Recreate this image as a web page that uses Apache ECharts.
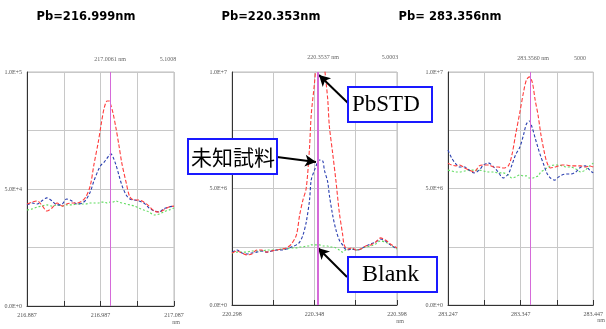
<!DOCTYPE html>
<html>
<head>
<meta charset="utf-8">
<script src="https://cdn.jsdelivr.net/npm/echarts@6/dist/echarts.min.js"></script>
<style>
html,body{margin:0;padding:0;background:#fff;}
#chart{width:606px;height:329px;}
</style>
</head>
<body>
<div id="chart"></div>
<script>
//标题与中心波长
var titles = ['Pb=216.999nm', 'Pb=220.353nm', 'Pb= 283.356nm'];
var peakNm = [216.999, 220.353, 283.356];
var xRange = [[216.887, 217.087], [220.298, 220.398], [283.247, 283.447]];
var yLabels = [['0.0E+0', '5.0E+4', '1.0E+5'], ['0.0E+0', '5.0E+6', '1.0E+7'], ['0.0E+0', '5.0E+6', '1.0E+7']];

//Pb 216.999nm
var x1 = [216.887,216.894,216.901,216.907,216.914,216.921,216.928,216.935,216.941,216.948,216.955,216.962,216.967,216.973,216.978,216.984,216.988,216.992,216.996,216.999,217.001,217.004,217.008,217.012,217.016,217.022,217.027,217.033,217.039,217.046,217.053,217.060,217.067,217.073,217.080,217.087];
var red1 = [4.36,4.44,4.49,4.32,4.06,4.19,4.40,4.27,4.36,4.40,4.40,4.49,4.66,5.13,6.03,7.01,7.78,8.46,8.76,8.76,8.59,8.25,7.61,6.88,6.11,5.26,4.66,4.53,4.53,4.44,4.27,4.06,4.02,4.10,4.23,4.27];
var blue1 = [4.32,4.40,4.36,4.49,4.62,4.49,4.32,4.36,4.57,4.49,4.36,4.40,4.53,4.87,5.34,5.81,6.03,6.15,6.32,6.45,6.50,6.37,6.03,5.60,5.17,4.74,4.57,4.53,4.49,4.40,4.19,4.06,4.02,4.15,4.23,4.27];
var green1 = [4.10,4.15,4.23,4.27,4.32,4.27,4.32,4.27,4.32,4.32,4.36,4.36,4.36,4.40,4.40,4.40,4.44,4.44,4.40,4.44,4.40,4.44,4.49,4.44,4.40,4.36,4.32,4.27,4.19,4.10,4.02,3.89,3.93,4.02,4.10,4.19];

//Pb 220.353nm
var x2 = [220.298,220.301,220.304,220.307,220.310,220.313,220.316,220.319,220.322,220.325,220.328,220.331,220.334,220.337,220.339,220.341,220.343,220.345,220.346,220.348,220.350,220.351,220.353,220.354,220.356,220.357,220.359,220.361,220.363,220.365,220.366,220.368,220.371,220.373,220.376,220.379,220.382,220.385,220.388,220.391,220.394,220.398];
var red2 = [2.23,2.32,2.23,2.15,2.19,2.36,2.36,2.27,2.32,2.36,2.40,2.45,2.62,3.00,3.86,4.51,5.02,6.78,8.15,9.53,11.16,11.80,11.59,10.30,8.84,7.68,6.52,5.32,3.99,3.05,2.58,2.40,2.45,2.36,2.40,2.53,2.58,2.70,2.88,2.79,2.62,2.45];
var blue2 = [2.27,2.36,2.23,2.19,2.23,2.27,2.32,2.27,2.32,2.36,2.36,2.40,2.49,2.58,2.70,3.00,3.56,4.51,5.36,5.79,6.14,6.22,6.18,5.79,5.28,4.72,3.86,3.22,2.79,2.58,2.45,2.36,2.40,2.36,2.40,2.53,2.62,2.70,2.83,2.75,2.58,2.40];
var green2 = [2.23,2.27,2.27,2.27,2.32,2.32,2.32,2.36,2.36,2.36,2.40,2.40,2.45,2.45,2.49,2.49,2.53,2.53,2.58,2.58,2.58,2.58,2.53,2.53,2.53,2.49,2.49,2.45,2.36,2.27,2.32,2.40,2.40,2.36,2.40,2.49,2.53,2.62,2.75,2.70,2.58,2.40];

//Pb 283.356nm
var x3 = [283.247,283.252,283.258,283.263,283.270,283.276,283.283,283.290,283.296,283.303,283.310,283.316,283.323,283.330,283.335,283.340,283.346,283.351,283.355,283.359,283.363,283.367,283.371,283.375,283.379,283.383,283.388,283.394,283.399,283.404,283.410,283.416,283.423,283.430,283.436,283.442,283.447];
var red3 = [6.09,6.01,5.97,6.01,5.88,5.79,5.71,5.97,6.01,6.01,5.92,5.92,5.88,5.97,6.44,7.30,8.28,9.14,9.66,9.79,9.57,8.80,8.15,7.30,6.65,6.14,5.88,5.92,5.97,6.01,6.01,5.97,5.97,5.97,5.92,5.97,5.92];
var blue3 = [6.65,6.31,6.05,5.92,5.92,5.79,5.67,5.79,6.01,6.09,5.92,5.71,5.45,5.62,6.01,6.44,6.78,7.30,7.77,7.90,7.60,7.17,6.74,6.35,6.01,5.67,5.45,5.36,5.49,5.58,5.62,5.62,5.71,5.92,5.97,5.79,5.67];
var green3 = [5.79,5.75,5.71,5.71,5.75,5.79,5.79,5.79,5.75,5.71,5.71,5.67,5.67,5.58,5.45,5.49,5.58,5.54,5.54,5.45,5.45,5.49,5.54,5.71,5.79,5.88,5.97,6.01,6.01,5.97,5.92,5.92,5.84,5.71,5.79,5.97,6.09];

var xs = [x1, x2, x3];
var reds = [red1, red2, red3];
var blues = [blue1, blue2, blue3];
var greens = [green1, green2, green3];

var myChart = echarts.init(document.getElementById('chart'));

//三个小图的位置
var grids = [
	{left: 27, top: 72, width: 147, height: 234},
	{left: 232, top: 72, width: 165, height: 233},
	{left: 448, top: 72, width: 150, height: 233}
];
var titleX = [81, 266, 445];

function pairs(x, y) {
	var arr = [];
	for (var i = 0; i < x.length; i++) {
		arr.push([x[i], y[i]]);
	}
	return arr;
}

var gridOpt = [], xAxisOpt = [], yAxisOpt = [], seriesOpt = [], titleOpt = [];

for (var k = 0; k < 3; k++) {
	gridOpt.push({
		left: grids[k].left, top: grids[k].top, width: grids[k].width, height: grids[k].height,
		show: true, borderColor: '#bdbdbd', borderWidth: 1
	});
	titleOpt.push({
		text: titles[k], left: titleX[k], top: 6, textAlign: 'center',
		textStyle: {fontFamily: 'DejaVu Sans', fontWeight: 'bold', fontSize: 11.5, color: '#000'}
	});
	var lo = xRange[k][0], hi = xRange[k][1];
	xAxisOpt.push({
		gridIndex: k, type: 'value', min: lo, max: hi,
		interval: +((hi - lo) / 4).toFixed(4),
		axisLine: {lineStyle: {color: '#333', width: 1}},
		axisTick: {inside: true, length: 5, lineStyle: {color: '#333'}},
		axisLabel: {
			fontSize: 6, color: '#555', fontFamily: 'Liberation Serif', margin: 6,
			showMinLabel: true, showMaxLabel: true, hideOverlap: false,
			formatter: function (v, idx) { return idx % 2 === 0 ? v.toFixed(3) : ''; }
		},
		splitLine: {show: true, lineStyle: {color: '#c8c8c8', width: 1}}
	});
	(function (labels) {
		yAxisOpt.push({
			gridIndex: k, type: 'value', min: 0, max: 10, interval: 2.5,
			axisLine: {show: true, lineStyle: {color: '#333', width: 1}},
			axisTick: {show: false},
			axisLabel: {
				fontSize: 6, color: '#555', fontFamily: 'Liberation Serif', margin: 5,
				formatter: function (v, idx) { return idx % 2 === 0 ? labels[idx / 2] : ''; }
			},
			splitLine: {show: true, lineStyle: {color: '#c8c8c8', width: 1}}
		});
	})(yLabels[k]);

	// 绿线 Blank
	var greenS = {
		type: 'line', xAxisIndex: k, yAxisIndex: k, data: pairs(xs[k], greens[k]),
		symbol: 'none', smooth: 0.3, z: 2,
		lineStyle: {color: '#5fdc5f', width: 1.1, type: [2, 2]}
	};
	// 蓝线 未知试料
	var blueS = {
		type: 'line', xAxisIndex: k, yAxisIndex: k, data: pairs(xs[k], blues[k]),
		symbol: 'none', smooth: 0.3, z: 3,
		lineStyle: {color: '#2a3fb0', width: 1.1, type: [3, 2]}
	};
	// 红线 PbSTD
	var redS = {
		type: 'line', xAxisIndex: k, yAxisIndex: k, data: pairs(xs[k], reds[k]),
		symbol: 'none', smooth: 0.3, z: 4,
		lineStyle: {color: '#ff3c3c', width: 1.1, type: [4, 2]},
		markLine: {
			silent: true, symbol: 'none', label: {show: false},
			lineStyle: {color: '#d56ad9', width: k === 1 ? 2 : 1, type: 'solid'},
			data: [{xAxis: peakNm[k]}]
		}
	};
	if (k === 1) {
		//箭头
		greenS.markLine = {
			silent: true, symbol: ['none', 'arrow'], symbolSize: [9, 11],
			label: {show: false},
			lineStyle: {color: '#000', width: 2, type: 'solid'},
			data: [
				[{x: 348, y: 103}, {x: 319, y: 75}],
				[{x: 277, y: 157}, {x: 316, y: 162}],
				[{x: 347, y: 277}, {x: 318, y: 248}]
			]
		};
	}
	seriesOpt.push(greenS, blueS, redS);
}

//小字和标注框
function smallText(x, y, t, align) {
	return {type: 'text', x: x, y: y, style: {text: t, font: '6px "Liberation Serif"', fill: '#666', align: align || 'center', verticalAlign: 'middle'}};
}
var graphicOpt = [
	smallText(110, 59, '217.0061 nm'), smallText(168, 59, '5.1008'),
	smallText(323, 57, '220.3537 nm'), smallText(390, 57, '5.0003'),
	smallText(533, 58, '283.3560 nm'), smallText(580, 58, '5000'),
	smallText(176, 322, 'nm'), smallText(400, 321, 'nm'), smallText(601, 320, 'nm'),
	{type: 'rect', shape: {x: 348, y: 87, width: 84, height: 35}, style: {fill: '#fff', stroke: '#1a1aff', lineWidth: 2}, z: 100},
	{type: 'text', x: 352, y: 105, z: 101, style: {text: 'PbSTD', font: '23px "Liberation Serif"', fill: '#000', verticalAlign: 'middle'}},
	{type: 'rect', shape: {x: 188, y: 139, width: 89, height: 35}, style: {fill: '#fff', stroke: '#1a1aff', lineWidth: 2}, z: 100},
	{type: 'text', x: 233, y: 157, z: 101, style: {text: '未知試料', font: '21px "Noto Sans CJK JP"', fill: '#000', align: 'center', verticalAlign: 'middle'}},
	{type: 'rect', shape: {x: 348, y: 257, width: 89, height: 35}, style: {fill: '#fff', stroke: '#1a1aff', lineWidth: 2}, z: 100},
	{type: 'text', x: 362, y: 275, z: 101, style: {text: 'Blank', font: '24px "Liberation Serif"', fill: '#000', verticalAlign: 'middle'}}
];

var option = {
	animation: false,
	backgroundColor: '#fff',
	title: titleOpt,
	grid: gridOpt,
	xAxis: xAxisOpt,
	yAxis: yAxisOpt,
	series: seriesOpt,
	graphic: graphicOpt
};
myChart.setOption(option);
</script>
</body>
</html>
